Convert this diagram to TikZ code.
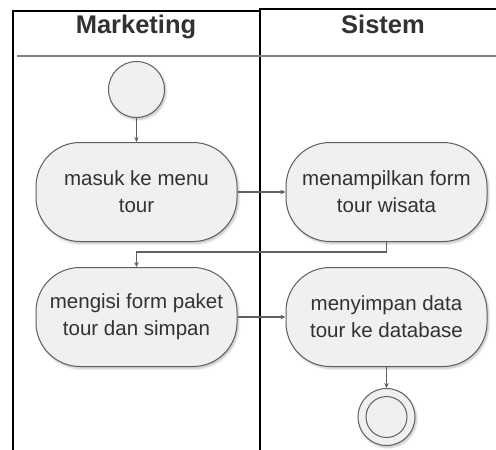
\documentclass[tikz,border=0pt]{standalone}
\usepackage{fontspec}
\setmainfont{Liberation Sans}
\usepackage{tikz}
\usetikzlibrary{arrows.meta,shadows.blur,positioning}

\definecolor{actfill}{RGB}{240,240,240}
\definecolor{actline}{RGB}{95,95,95}
\definecolor{acttext}{RGB}{50,50,50}
\definecolor{sepline}{RGB}{128,128,128}

\begin{document}
\begin{tikzpicture}[
    x=1pt, y=-1pt,
    lane/.style={line width=1.6pt, black},
    sep/.style={line width=1.3pt, sepline},
    head/.style={font=\fontsize{25.5}{29}\selectfont\bfseries, text=acttext, inner sep=0},
    flowarrow/.style={draw, actline, line width=1.1pt, -{Stealth[length=5pt,width=4.5pt]}},
    softshadow/.style={blur shadow={shadow xshift=1.5pt, shadow yshift=-2pt, shadow blur steps=6, shadow opacity=25}},
    act/.style={rectangle, rounded corners=44pt, draw=actline, fill=actfill, line width=1pt, softshadow,
        minimum width=201pt, minimum height=99pt, align=center, inner sep=0,
        font=\fontsize{20.5}{27}\selectfont, text=acttext},
    startnode/.style={circle, draw=actline, fill=actfill, line width=1pt, softshadow, minimum size=56pt, inner sep=0},
    endnode/.style={circle, draw=actline, fill=actfill, line width=1pt, softshadow, minimum size=57pt, inner sep=0,
        path picture={\draw[actline, line width=1pt] (path picture bounding box.center) circle (20.5pt);}}]
\useasboundingbox (0,0) rectangle (496,450);

% swimlanes
\path[draw, lane] (13,452) |- (260,11);
\path[draw, lane] (260,452) |- (498,9);
\path[draw, sep] (17,56) -- (496,56);
\node[head] (marketing) at (136,27) {Marketing};
\node[head] (sistem) at (383,24) {Sistem};

% activities
\node[startnode] (start) at (136.5,89.5) {};
\node[act, below=24pt of start] (menu) {masuk ke menu\\tour};
\node[act, right=48pt of menu] (tampil) {menampilkan form\\tour wisata};
\node[act, below=25pt of menu] (isi) {mengisi form paket\\tour dan simpan};
\node[act, right=48pt of isi] (simpan) {menyimpan data\\tour ke database};
\node[endnode, below=21pt of simpan] (final) {};

\path[flowarrow] (start) -- (menu);
\path[flowarrow] (menu) -- (tampil);
\path[flowarrow] (tampil.south) -- ([yshift=-10pt]tampil.south) -| (isi.north);
\path[flowarrow] (isi) -- (simpan);
\path[flowarrow] (simpan) -- (final);

\end{tikzpicture}
\end{document}
